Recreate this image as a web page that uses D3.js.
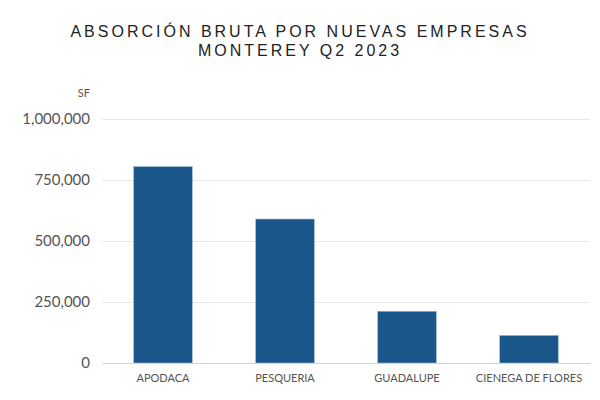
<!DOCTYPE html>
<html>
<head>
<meta charset="utf-8">
<script src="https://cdn.jsdelivr.net/npm/d3@7"></script>
<style>
  body { margin: 0; background: #fff; }
</style>
</head>
<body>
<div id="chart"></div>
<script>
// data
let categories = ["APODACA", "PESQUERIA", "GUADALUPE", "CIENEGA DE FLORES"];
let values = [805000, 590000, 212000, 113000];
let yTicks = [0, 250000, 500000, 750000, 1000000];
let titleLines = ["ABSORCIÓN BRUTA POR NUEVAS EMPRESAS", "MONTEREY Q2 2023"];

let margin = { top: 119, right: 10, bottom: 37, left: 102 };
let width = 600 - margin.left - margin.right;
let height = 400 - margin.top - margin.bottom;

let svg = d3.select("#chart")
	.append("svg")
	.attr("width", 600)
	.attr("height", 400);

// title
svg.append("g")
	.selectAll("text")
	.data(titleLines)
	.enter().append("text")
	.attr("x", 300)
	.attr("y", function (d, i) { return 37 + i * 18.7; })
	.attr("text-anchor", "middle")
	.style("font-family", "'Liberation Sans', Arial, sans-serif")
	.style("font-size", "16px")
	.style("letter-spacing", "3px")
	.style("fill", "#222")
	.text(function (d) { return d; });

let xScale = d3.scaleBand().domain(categories).range([0, width]).paddingInner(0.52).paddingOuter(0.26),
	yScale = d3.scaleLinear().domain([0, 1000000]).range([height, 0]);

let g = svg.append("g")
	.attr("transform", "translate(" + margin.left + "," + margin.top + ")");

// gridlines + y labels
let yAxis = g.append("g")
	.call(d3.axisLeft(yScale).tickValues(yTicks).tickSize(-width).tickPadding(12)
		.tickFormat(d3.format(",")));
yAxis.select(".domain").remove();
yAxis.selectAll("line").attr("stroke", "#e8e8e8");
yAxis.selectAll("text")
	.style("font-family", "Lato, sans-serif")
	.style("font-size", "15px")
	.style("fill", "#555");

g.append("text")
	.attr("x", -12)
	.attr("y", -22)
	.attr("text-anchor", "end")
	.style("font-family", "Lato, sans-serif")
	.style("font-size", "11px")
	.style("fill", "#555")
	.text("SF");

// bars
g.selectAll(".bar")
	.data(values)
	.enter().append("rect")
	.attr("class", "bar")
	.attr("x", function (d, i) { return xScale(categories[i]); })
	.attr("y", function (d) { return yScale(d); })
	.attr("width", xScale.bandwidth())
	.attr("height", function (d) { return height - yScale(d); })
	.attr("fill", "#1a5689")
	.attr("stroke", "#9fb7cf")
	.attr("stroke-width", 0.6);

// x axis
let xAxis = g.append("g")
	.attr("transform", "translate(0," + height + ")")
	.call(d3.axisBottom(xScale).tickSize(0).tickPadding(11));
xAxis.select(".domain").attr("stroke", "#c9d5e3");
xAxis.selectAll("text")
	.style("font-family", "Lato, sans-serif")
	.style("font-size", "11px")
	.style("fill", "#555");
</script>
</body>
</html>
